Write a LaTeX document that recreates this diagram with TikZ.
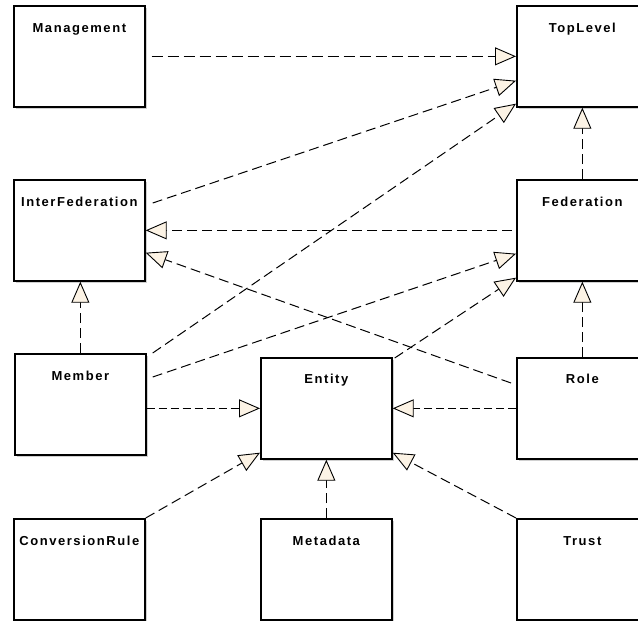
\documentclass[tikz,border=0pt]{standalone}
\usepackage{fontspec}
\setmainfont{Liberation Sans}
\usetikzlibrary{arrows.meta,shadows}
\definecolor{tipfill}{RGB}{252,243,229}
\begin{document}
\begin{tikzpicture}[x=1pt,y=-1pt,
  cls/.style={draw=black, line width=1.7pt, fill=white,
    minimum width=131pt, minimum height=101pt, anchor=north west, inner sep=0pt,
    drop shadow={shadow xshift=2.5pt,shadow yshift=-2.5pt,fill=black!30,opacity=0.6}},
  ttl/.style={font=\fontsize{13}{15}\selectfont\bfseries\addfontfeature{LetterSpace=12}, anchor=base, inner sep=0pt},
  dep/.style={draw=black, line width=1pt, dash pattern=on 10pt off 5pt,
    -{Triangle[length=21pt,width=18pt,fill=tipfill,line width=0.9pt]}}]
\clip (0,0) rectangle (638,621);
\fill[white] (0,0) rectangle (638,621);

% classes
\node[cls] (mgmt)   at (13,5)    {};
\node[cls] (top)    at (516,5)   {};
\node[cls] (inter)  at (13,179)  {};
\node[cls] (fed)    at (516,179) {};
\node[cls] (member) at (14,353)  {};
\node[cls] (entity) at (260,357) {};
\node[cls] (role)   at (516,357) {};
\node[cls] (conv)   at (13,518)  {};
\node[cls] (meta)   at (260,518) {};
\node[cls] (trust)  at (516,518) {};

% class names
\node[ttl] (mgmtT)   at ([yshift=-27pt]mgmt.north)   {Management};
\node[ttl] (topT)    at ([yshift=-27pt]top.north)    {TopLevel};
\node[ttl] (interT)  at ([yshift=-27pt]inter.north)  {InterFederation};
\node[ttl] (fedT)    at ([yshift=-27pt]fed.north)    {Federation};
\node[ttl] (memberT) at ([yshift=-27pt]member.north) {Member};
\node[ttl] (entityT) at ([yshift=-26pt]entity.north) {Entity};
\node[ttl] (roleT)   at ([yshift=-26pt]role.north)   {Role};
\node[ttl] (convT)   at ([yshift=-27pt]conv.north)   {ConversionRule};
\node[ttl] (metaT)   at ([yshift=-27pt]meta.north)   {Metadata};
\node[ttl] (trustT)  at ([yshift=-27pt]trust.north)  {Trust};

% dependencies
\draw[dep, dash pattern=on 11.5pt off 4.5pt, shorten <=6pt] (mgmt.east) -- (top.west);
\draw[dep] ([xshift=7pt,yshift=-24pt]inter.north east) -- ([yshift=27pt]top.south west);
\draw[dep] ([xshift=6pt]member.north east) -- ([yshift=4pt]top.south west);
\draw[dep] (fed.north) -- (top.south);
\draw[dep, shorten <=4pt] (fed.west) -- (inter.east);
\draw[dep] ([xshift=-5pt,yshift=-26pt]role.north west) -- ([yshift=29pt]inter.south east);
\draw[dep] (member.north |- member.north) -- (member.north |- inter.south);
\draw[dep] ([xshift=6pt,yshift=-24pt]member.north east) -- ([yshift=28pt]fed.south west);
\draw[dep] ([xshift=2pt,yshift=-1pt]entity.north east) -- ([yshift=4pt]fed.south west);
\draw[dep] (role.north) -- (fed.south);
\draw[dep, dash pattern=on 8pt off 4pt] (member.east |- entity.west) -- (entity.west);
\draw[dep, dash pattern=on 8pt off 4pt] (role.west) -- (entity.east);
\draw[dep] (conv.north east) -- ([yshift=7pt]entity.south west);
\draw[dep] (meta.north) -- (entity.south);
\draw[dep] (trust.north west) -- ([yshift=7pt]entity.south east);
\end{tikzpicture}
\end{document}
